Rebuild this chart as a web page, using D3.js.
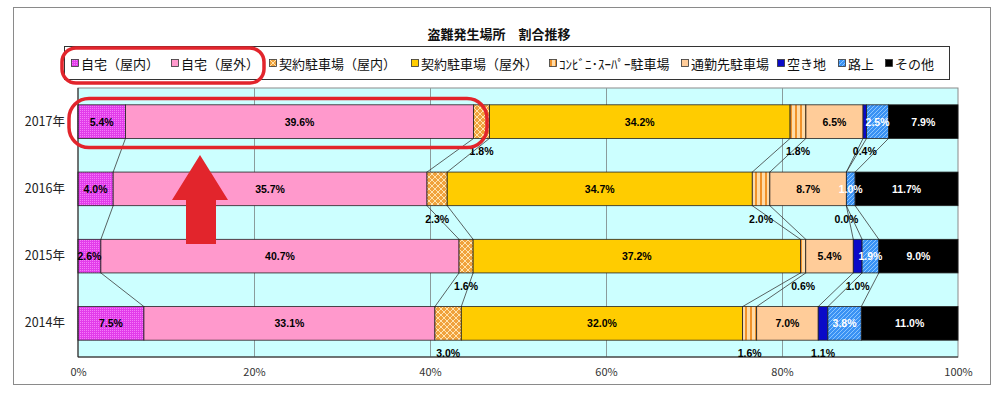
<!DOCTYPE html>
<html><head><meta charset="utf-8">
<script src="https://cdn.jsdelivr.net/npm/d3@7"></script>
<style>body{margin:0;background:#fff}</style>
</head><body><svg id="c" width="1000" height="398"></svg>
<script>
const titleText = "盗難発生場所　割合推移";
const years = ["2017年","2016年","2015年","2014年"];
const categories = ["自宅（屋内）","自宅（屋外）","契約駐車場（屋内）","契約駐車場（屋外）","ｺﾝﾋﾞﾆ･ｽｰﾊﾟｰ駐車場","通勤先駐車場","空き地","路上","その他"];
const values2017 = [5.4, 39.6, 1.8, 34.2, 1.8, 6.5, 0.4, 2.5, 7.9];
const values2016 = [4.0, 35.7, 2.3, 34.7, 2.0, 8.7, 0.0, 1.0, 11.7];
const values2015 = [2.6, 40.7, 1.6, 37.2, 0.6, 5.4, 1.0, 1.9, 9.0];
const values2014 = [7.5, 33.1, 3.0, 32.0, 1.6, 7.0, 1.1, 3.8, 11.0];
const xTicks = [0, 20, 40, 60, 80, 100];

const allValues = [values2017, values2016, values2015, values2014];
const FONT = "'Noto Sans CJK JP','Noto Sans',sans-serif";
const svg = d3.select("#c");
const defs = svg.append("defs");

function pat(id, w, h, build) {
  const p = defs.append("pattern").attr("id", id).attr("patternUnits", "userSpaceOnUse")
    .attr("width", w).attr("height", h);
  build(p);
}
pat("p0", 2, 2, p => {
  p.append("rect").attr("width", 2).attr("height", 2).attr("fill", "#E23CEA");
  p.append("rect").attr("width", 1).attr("height", 1).attr("fill", "#F47CF8");
});
pat("p2", 6, 6, p => {
  p.append("rect").attr("width", 6).attr("height", 6).attr("fill", "#F0A23C");
  p.append("path").attr("d", "M0,0L6,6M6,0L0,6").attr("stroke", "#FFE4B0").attr("stroke-width", 1);
});
pat("p4", 5, 5, p => {
  p.append("rect").attr("width", 5).attr("height", 5).attr("fill", "#FFDBA6");
  p.append("rect").attr("width", 2).attr("height", 5).attr("fill", "#F0922A");
});
pat("p7", 4, 4, p => {
  p.append("rect").attr("width", 4).attr("height", 4).attr("fill", "#3A92F4");
  p.append("path").attr("d", "M0,4L4,0M-1,1L1,-1M3,5L5,3").attr("stroke", "#8CC6FF").attr("stroke-width", 1);
});
const fills = ["url(#p0)", "#FF99CC", "url(#p2)", "#FFCC00", "url(#p4)", "#FFCC99", "#0A0AC8", "url(#p7)", "#000000"];
const labelColor = ["#000","#000","#000","#000","#000","#000","#000","#fff","#fff"];
const below = [false,false,true,false,true,false,true,false,false];

// outer frame
svg.append("rect").attr("x", 13.5).attr("y", 7.5).attr("width", 977).attr("height", 377)
  .attr("fill", "#fff").attr("stroke", "#8a8a8a");

// title
svg.append("text").attr("x", 499).attr("y", 33).attr("text-anchor", "middle")
  .attr("dominant-baseline", "central").attr("font-family", FONT).attr("font-weight", "bold")
  .attr("font-size", 13).attr("fill", "#111").text(titleText);

// legend
svg.append("rect").attr("x", 64.5).attr("y", 46.5).attr("width", 885).attr("height", 33)
  .attr("fill", "#fff").attr("stroke", "#333");
const legX = [75, 175, 273, 415, 553, 685, 781, 842, 889];
const lg = svg.append("g");
categories.forEach((c, j) => {
  lg.append("rect").attr("x", legX[j] - 3.5).attr("y", 59.5).attr("width", 7).attr("height", 7)
    .attr("fill", fills[j]).attr("stroke", "#333").attr("stroke-width", 0.8);
  lg.append("text").attr("x", legX[j] + 6).attr("y", 63).attr("dominant-baseline", "central")
    .attr("font-family", FONT).attr("font-size", 13).attr("fill", "#111").text(c);
});

// scales
const x = d3.scaleLinear().domain([0, 1]).range([78, 958]);
const y = d3.scaleBand().domain(years).range([88, 357]).paddingInner(0.5).paddingOuter(0.25);
const bw = y.bandwidth();

const rows = years.map((yr, i) => {
  const o = { year: yr };
  categories.forEach((c, j) => o[c] = allValues[i][j]);
  return o;
});
const series = d3.stack().keys(categories).offset(d3.stackOffsetExpand)(rows);

// plot background
svg.append("rect").attr("x", 78).attr("y", 88).attr("width", 880).attr("height", 269)
  .attr("fill", "#CCFFFF").attr("stroke", "#8a8a8a");

// gridlines
svg.append("g").attr("transform", "translate(0,357)")
  .call(d3.axisBottom(x).tickValues([0.2, 0.4, 0.6, 0.8]).tickSize(-269).tickFormat(""))
  .call(g => g.select(".domain").remove())
  .call(g => g.selectAll("line").attr("stroke", "#8a9c9c"));

// series lines
const sl = svg.append("g").attr("stroke", "#3a3a3a").attr("stroke-width", 0.8);
for (let i = 0; i < years.length - 1; i++) {
  for (let j = 0; j < categories.length - 1; j++) {
    sl.append("line")
      .attr("x1", x(series[j][i][1])).attr("y1", y(years[i]) + bw)
      .attr("x2", x(series[j][i + 1][1])).attr("y2", y(years[i + 1]));
  }
}

// bars
series.forEach((s, j) => {
  svg.append("g").selectAll("rect").data(s).join("rect")
    .attr("x", d => x(d[0])).attr("y", d => y(d.data.year))
    .attr("width", d => x(d[1]) - x(d[0])).attr("height", bw)
    .attr("fill", fills[j]).attr("stroke", "#222").attr("stroke-width", 0.8);
});

// axes
svg.append("g").attr("transform", "translate(0,357)")
  .call(d3.axisBottom(x).tickValues(xTicks.map(t => t / 100)).tickSize(0).tickPadding(11)
    .tickFormat(d => Math.round(d * 100) + "%"))
  .call(g => g.select(".domain").remove())
  .call(g => g.selectAll("text").attr("font-family", FONT).attr("font-size", 11).attr("fill", "#333"));
svg.append("g").attr("transform", "translate(78,0)")
  .call(d3.axisLeft(y).tickSize(0).tickPadding(13))
  .call(g => g.select(".domain").remove())
  .call(g => g.selectAll("text").attr("font-family", FONT).attr("font-size", 12.5).attr("fill", "#222"));
svg.append("line").attr("x1", 78).attr("x2", 78).attr("y1", 88).attr("y2", 357).attr("stroke", "#222");
svg.append("line").attr("x1", 78).attr("x2", 958).attr("y1", 357).attr("y2", 357).attr("stroke", "#222");

// labels
series.forEach((s, j) => {
  svg.append("g").selectAll("text").data(s).join("text")
    .attr("x", d => (x(d[0]) + x(d[1])) / 2)
    .attr("y", d => below[j] ? y(d.data.year) + bw + 13 : y(d.data.year) + bw / 2)
    .attr("text-anchor", "middle").attr("dominant-baseline", "central")
    .attr("font-family", "'Liberation Sans',Arial,sans-serif").attr("font-weight", "bold")
    .attr("font-size", 10.5).attr("fill", below[j] ? "#000" : labelColor[j])
    .text((d, i) => allValues[i][j].toFixed(1) + "%");
});

// red annotations
const red = "#E2252C";
svg.append("rect").attr("x", 62).attr("y", 48).attr("width", 202).attr("height", 35)
  .attr("rx", 14).attr("fill", "none").attr("stroke", red).attr("stroke-width", 3.5);
svg.append("rect").attr("x", 69).attr("y", 98.5).attr("width", 418).attr("height", 49)
  .attr("rx", 20).attr("fill", "none").attr("stroke", red).attr("stroke-width", 3.5);
svg.append("path").attr("d", "M200,155L228,200L216,200L216,244L186,244L186,200L172,200Z")
  .attr("fill", red);
</script></body></html>
